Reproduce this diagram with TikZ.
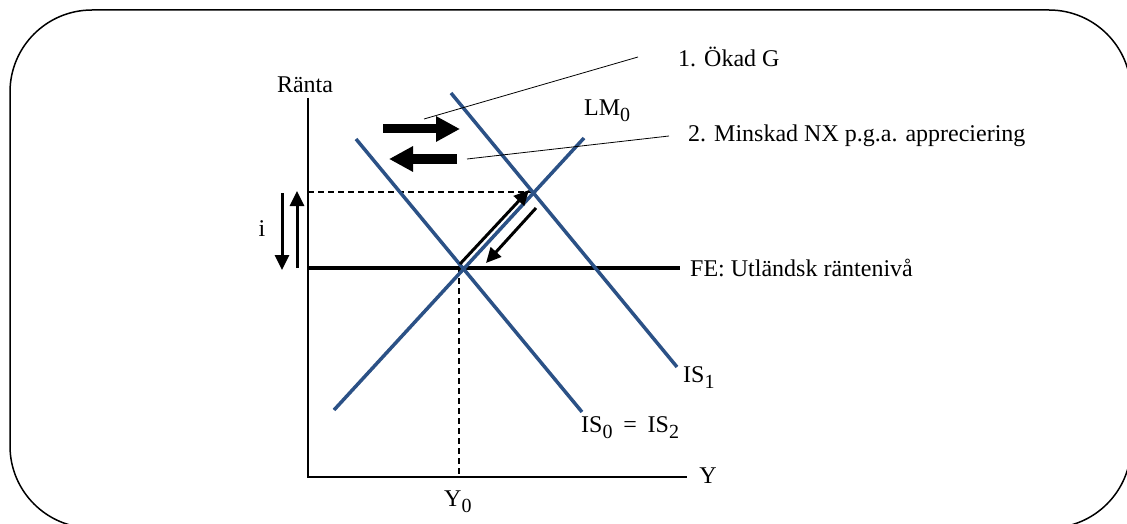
\documentclass[tikz,border=0pt]{standalone}
\usepackage{fontspec}
\setmainfont{Liberation Serif}
\usepackage{tikz}
\usetikzlibrary{arrows.meta}
\definecolor{isblue}{HTML}{2B5186}
\newcommand{\sbs}[1]{\raisebox{-6pt}{\fontsize{20}{20}\selectfont #1}}

\begin{document}
\begin{tikzpicture}[x=1pt,y=-1pt,font=\fontsize{24}{28}\selectfont,
      ax/.style={line width=2pt},
      cv/.style={isblue,line width=3.5pt},
      guide/.style={dash pattern=on 6pt off 4pt,line width=1.5pt},
      fat/.style={line width=9pt,-{Triangle[width=24pt,length=24pt]}},
      movearr/.style={line width=3pt,-{Triangle[width=14pt,length=15pt]}},
      lead/.style={line width=0.8pt},
      lbl/.style={inner sep=0pt}]
    \useasboundingbox (0,0) rectangle (1127,524);
    \begin{scope}
      \clip (0,0) rectangle (1127,524);
      \draw[line width=1.5pt,rounded corners=82pt] (10,10) rectangle (1131,528);
    \end{scope}
    % axes
    \coordinate (o) at (308,477);
    \coordinate (ytop) at (308,98);
    \coordinate (xend) at (687,477);
    \draw[ax] (ytop) -- (o) -- (xend);
    \node[lbl] (renta) at (305,85) {Ränta};
    \node[lbl] (ylab) at (708,476) {Y};
    % FE line and equilibria
    \coordinate (fe0) at (308,268);
    \coordinate (fe1) at (680,268);
    \draw[line width=3.5pt] (fe0) -- (fe1);
    \node[lbl,anchor=west] (fe) at (690,268) {FE: Utländsk räntenivå};
    \coordinate (e0) at (459,268);
    \coordinate (e1) at (531,192);
    \coordinate (i1) at (308,192);
    \coordinate (y0) at (459,477);
    \draw[guide] (i1) -- (e1);
    \draw[guide] (e0) -- (y0);
    \node[lbl,anchor=west] (y0lab) at (444,502) {Y\sbs{0}};
    % curves
    \coordinate (lma) at (334,410);
    \coordinate (lmb) at (584,138);
    \coordinate (is0a) at (356,139);
    \coordinate (is0b) at (582,412);
    \coordinate (is1a) at (451,93);
    \coordinate (is1b) at (677,367);
    \draw[cv] (lma) -- (lmb);
    \draw[cv] (is0a) -- (is0b);
    \draw[cv] (is1a) -- (is1b);
    \node[lbl,anchor=west] (lm) at (584,111) {LM\sbs{0}};
    \node[lbl,anchor=west] (is1) at (683,378) {IS\sbs{1}};
    \node[lbl,anchor=west] (is02) at (581,428) {IS\sbs{0}\hspace{0.45em}=\hspace{0.45em}IS\sbs{2}};
    % shifts
    \coordinate (ra) at (383,129);
    \coordinate (rb) at (460,129);
    \coordinate (la) at (457,159);
    \coordinate (lb) at (389,159);
    \draw[fat] (ra) -- (rb);
    \draw[fat] (la) -- (lb);
    \coordinate (ua) at (460,264);
    \coordinate (ub) at (529,190);
    \coordinate (da) at (536,208);
    \coordinate (db) at (486,263);
    \draw[movearr] (ua) -- (ub);
    \draw[movearr] (da) -- (db);
    \coordinate (ida) at (282,193);
    \coordinate (idb) at (282,270);
    \coordinate (iua) at (297,268);
    \coordinate (iub) at (297,191);
    \draw[movearr] (ida) -- (idb);
    \draw[movearr] (iua) -- (iub);
    \node[lbl] (ilab) at (262,229) {i};
    % notes
    \node[lbl,anchor=west] (n1) at (678,57) {1. Ökad G};
    \node[lbl,anchor=west] (n2) at (688,136) {2. Minskad NX p.g.a. appreciering};
    \coordinate (l1a) at (424,119);
    \coordinate (l1b) at (638,57);
    \coordinate (l2a) at (467,159);
    \coordinate (l2b) at (669,136);
    \draw[lead] (l1a) -- (l1b);
    \draw[lead] (l2a) -- (l2b);
  \end{tikzpicture}
\end{document}
